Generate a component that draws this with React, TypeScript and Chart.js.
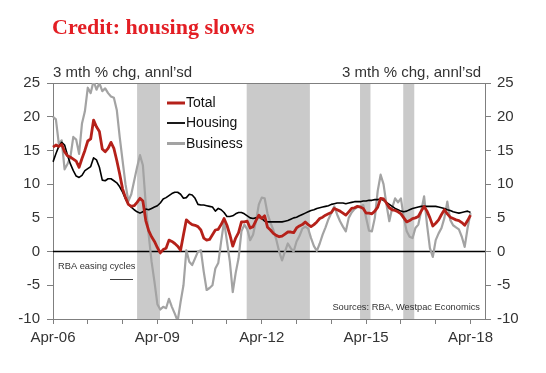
import React, { useEffect, useRef } from "react";
import { Chart, registerables } from "chart.js";

Chart.register(...registerables);

// ---- Data ----
const MONTH_NAMES = ["Jan", "Feb", "Mar", "Apr", "May", "Jun", "Jul", "Aug", "Sep", "Oct", "Nov", "Dec"];
// categories: Apr-06 .. Sep-18 (month labels)
const categories: string[] = [];
for (let i = 0; i < 150; i++) {
  const mi = (3 + i) % 12;
  const yr = 6 + Math.floor((3 + i) / 12);
  categories.push(MONTH_NAMES[mi] + "-" + String(yr).padStart(2, "0"));
}

const xTickLabels = ["Apr-06", "Apr-09", "Apr-12", "Apr-15", "Apr-18"];
const yTicks = [-10, -5, 0, 5, 10, 15, 20, 25];

const total = [
  15.5, 15.8, 15.6, 15.9, 14.8, 14.2, 14.0, 13.7, 13.4, 12.5,
  13.8, 15.0, 16.4, 16.7, 19.5, 18.5, 17.8, 15.2, 14.8, 15.3,
  16.2, 15.3, 13.5, 11.5, 9.3, 8.0, 7.0, 6.7, 6.8, 7.3,
  7.9, 7.5, 4.6, 3.1, 2.2, 1.5, 0.6, -0.2, 0.3, 0.5,
  1.7, 1.5, 1.2, 0.8, 0.2, 2.5, 4.7, 4.3, 4.0, 3.9,
  3.7, 3.2, 2.0, 1.7, 1.8, 2.5, 3.2, 3.3, 4.0, 4.9,
  3.9, 2.5, 0.8, 2.0, 2.8, 4.4, 4.4, 4.5, 3.5, 3.7,
  4.6, 5.4, 4.9, 5.3, 3.6, 3.2, 2.7, 2.4, 2.2, 2.3,
  2.6, 2.9, 2.9, 2.8, 3.5, 3.8, 4.0, 4.4, 4.0, 3.7,
  4.0, 4.4, 4.9, 5.1, 5.4, 5.6, 5.8, 6.4, 6.2, 6.0,
  5.7, 5.4, 5.9, 6.4, 6.5, 6.7, 6.6, 6.4, 5.7, 5.7,
  5.6, 6.0, 6.6, 7.9, 7.8, 7.2, 6.5, 6.2, 6.1, 5.9,
  5.6, 5.0, 4.4, 4.6, 4.9, 5.0, 5.2, 6.0, 6.7, 6.0,
  5.0, 3.8, 4.2, 4.7, 5.5, 6.2, 5.6, 5.1, 4.9, 4.7,
  4.6, 4.3, 3.9, 4.6, 5.4,
];

const housing = [
  13.3, 14.5, 15.6, 16.2, 15.8, 14.3, 13.0, 12.0, 11.2, 11.0,
  11.3, 12.0, 12.3, 12.6, 13.9, 13.6, 12.5, 10.6, 10.5, 10.8,
  10.8, 10.5, 10.2, 9.6, 8.8, 7.8, 7.0, 6.6, 6.2, 5.9,
  5.7, 5.9, 6.3, 6.2, 6.4, 6.6, 6.8, 7.2, 7.8, 8.0,
  8.3, 8.6, 8.8, 8.8, 8.5, 7.9, 8.0, 8.5, 8.4, 7.9,
  7.0, 6.9, 6.9, 6.8, 6.7, 6.6, 6.0, 6.4, 6.2, 5.8,
  5.2, 5.2, 5.3, 5.6, 5.8, 5.8, 5.6, 5.3, 5.0, 4.9,
  5.0, 5.1, 4.9, 4.5, 4.4, 4.4, 4.4, 4.4, 4.4, 4.4,
  4.5, 4.6, 4.8, 5.0, 5.1, 5.3, 5.5, 5.7, 5.9, 6.1,
  6.2, 6.4, 6.5, 6.6, 6.7, 6.8, 7.0, 7.1, 7.2, 7.2,
  7.2, 7.1, 7.2, 7.3, 7.4, 7.4, 7.4, 7.5, 7.5, 7.6,
  7.6, 7.7, 7.7, 7.8, 7.6, 7.3, 7.0, 6.7, 6.4, 6.2,
  6.0, 5.9, 6.0, 6.2, 6.4, 6.5, 6.6, 6.7, 6.7, 6.7,
  6.7, 6.7, 6.7, 6.6, 6.5, 6.4, 6.2, 6.1, 5.9, 5.8,
  5.7, 5.8, 5.9, 6.0, 5.8,
];

const business = [
  20.0, 19.6, 16.0, 16.5, 12.2, 13.0, 14.0, 17.0, 16.6, 14.5,
  19.0, 20.8, 24.3, 23.5, 25.3, 24.0, 25.0, 23.8, 24.2, 23.5,
  23.0, 22.8, 21.0, 17.0, 13.5, 10.0, 7.5, 8.5, 10.5, 12.5,
  14.3, 12.8, 7.0, 2.5, -1.5, -4.5, -7.8, -8.6, -8.2, -8.4,
  -7.0, -8.2, -9.2, -10.3, -7.5, -5.0, 0.2, -1.5, -2.0, -1.0,
  0.0, 0.2, -3.0, -5.7, -5.4, -5.0, -2.5, -1.7, 1.5, 4.5,
  1.5, -1.5, -6.0, -3.2, -1.0, 3.0, 4.0, 3.3, 1.7, 2.5,
  4.5, 7.0, 8.0, 7.9, 5.6, 4.3, 3.2, 1.8, 0.0, -1.3,
  0.0, 1.2, 0.5, 0.0, 1.5, 2.3, 3.4, 3.7, 3.4, 2.0,
  0.8, 0.1, 1.2, 2.5, 3.6, 4.8, 5.7, 6.7, 5.5, 4.5,
  3.7, 3.0, 5.0, 5.8, 6.3, 6.6, 6.7, 6.9, 5.0, 3.1,
  3.0, 5.0, 9.0, 11.4, 10.0, 7.0, 4.5, 6.5, 7.9, 7.3,
  7.9, 5.0, 3.0, 2.2, 2.0, 3.5, 4.0, 6.0, 8.2, 4.0,
  0.5, -0.8, 1.7, 2.7, 3.5, 5.0, 7.4, 4.7, 3.9, 3.6,
  3.3, 2.2, 0.7, 3.5, 5.7,
];

// RBA easing cycles (in month-index units on the category axis)
const easingStart = [29, 66.8, 105.9, 120.8];
const easingEnd = [36.9, 88.6, 109.5, 124.6];

const seriesNames = ["Total", "Housing", "Business"];
const seriesColors = ["#B5211A", "#000000", "#A3A3A3"];
const seriesWidths = [2.8, 1.6, 2.2];

const TITLE = "Credit: housing slows";
const UNIT = "3 mth % chg, annl\u2019sd";
const EASING_LABEL = "RBA easing cycles";
const SOURCES = "Sources: RBA, Westpac Economics";

const SANS = "'Liberation Sans', Arial, sans-serif";
const TEXT = "#333333";
const AXIS = "#7f7f7f";

const overlayPlugin = {
  id: "overlay",
  beforeDatasetsDraw(chart: any) {
    const { ctx, chartArea: a, scales } = chart;
    const x = scales.x;
    const y = scales.y;
    ctx.save();
    ctx.fillStyle = "#CACACA";
    easingStart.forEach((s, i) => {
      const x0 = x.getPixelForValue(s);
      const x1 = x.getPixelForValue(easingEnd[i]);
      ctx.fillRect(x0, a.top, x1 - x0, a.bottom - a.top);
    });
    const y0 = y.getPixelForValue(0);
    ctx.strokeStyle = "#000";
    ctx.lineWidth = 1.5;
    ctx.beginPath();
    ctx.moveTo(a.left, y0);
    ctx.lineTo(a.right, y0);
    ctx.stroke();
    ctx.strokeStyle = AXIS;
    ctx.lineWidth = 1;
    ctx.beginPath();
    ctx.moveTo(a.left, a.top + 0.5);
    ctx.lineTo(a.right, a.top + 0.5);
    ctx.stroke();
    ctx.restore();
  },
  afterDraw(chart: any) {
    const { ctx, chartArea: a } = chart;
    ctx.save();
    // title
    ctx.fillStyle = "#E31E24";
    ctx.font = "bold 22px 'Liberation Serif', 'Times New Roman', serif";
    ctx.textAlign = "left";
    ctx.textBaseline = "alphabetic";
    ctx.fillText(TITLE, 52, 34);
    // unit labels
    ctx.fillStyle = TEXT;
    ctx.font = "15px " + SANS;
    ctx.textAlign = "left";
    ctx.fillText(UNIT, a.left, 77);
    ctx.textAlign = "right";
    ctx.fillText(UNIT, a.right - 4, 77);
    // legend
    const ly = [103, 123, 143.5];
    ctx.font = "14px " + SANS;
    ctx.textAlign = "left";
    ctx.textBaseline = "middle";
    seriesNames.forEach((n, i) => {
      ctx.strokeStyle = seriesColors[i];
      ctx.lineWidth = i === 1 ? 1.8 : 3;
      ctx.beginPath();
      ctx.moveTo(167, ly[i]);
      ctx.lineTo(185, ly[i]);
      ctx.stroke();
      ctx.fillStyle = "#111";
      ctx.fillText(n, 186, ly[i] + 0.5);
    });
    // RBA easing label
    ctx.fillStyle = TEXT;
    ctx.font = "9.3px " + SANS;
    ctx.textAlign = "left";
    ctx.fillText(EASING_LABEL, 58, 266);
    ctx.strokeStyle = "#404040";
    ctx.lineWidth = 1;
    ctx.beginPath();
    ctx.moveTo(110, 279.5);
    ctx.lineTo(133, 279.5);
    ctx.stroke();
    // sources
    ctx.textAlign = "right";
    ctx.fillText(SOURCES, a.right - 5, 307);
    ctx.restore();
  },
};

export default function App() {
  const ref = useRef<HTMLCanvasElement | null>(null);

  useEffect(() => {
    if (!ref.current) return;
    const yAxisCommon = {
      type: "linear" as const,
      min: -10,
      max: 25,
      afterBuildTicks: (s: any) => {
        s.ticks = yTicks.map((v) => ({ value: v }));
      },
      grid: {
        drawOnChartArea: false,
        drawTicks: true,
        tickLength: 6,
        tickColor: AXIS,
        color: AXIS,
      },
      border: { display: true, color: AXIS, width: 1 },
      ticks: {
        font: { size: 15, family: SANS },
        color: TEXT,
        padding: 7,
      },
    };
    const chart = new Chart(ref.current, {
      type: "line",
      data: {
        labels: categories,
        datasets: seriesNames.map((n, i) => ({
          label: n,
          data: [total, housing, business][i],
          borderColor: seriesColors[i],
          backgroundColor: seriesColors[i],
          borderWidth: seriesWidths[i],
          pointRadius: 0,
          tension: 0,
          borderJoinStyle: "round" as const,
          yAxisID: "y",
        })),
      },
      options: {
        animation: false,
        responsive: false,
        events: [],
        layout: { padding: { top: 83, left: 0, right: 0, bottom: 0 } },
        plugins: {
          legend: { display: false },
          tooltip: { enabled: false },
          title: { display: false },
        },
        scales: {
          x: {
            type: "category",
            offset: false,
            afterBuildTicks: (s: any) => {
              s.ticks = categories
                .map((c, i) => ({ c, i }))
                .filter((o) => o.c.startsWith("Apr"))
                .map((o) => ({ value: o.i }));
            },
            afterFit: (s: any) => {
              s.height = 54;
            },
            grid: {
              drawOnChartArea: false,
              drawTicks: true,
              tickLength: 5,
              tickColor: AXIS,
              color: AXIS,
              offset: false,
            },
            border: { display: true, color: AXIS, width: 1 },
            ticks: {
              autoSkip: false,
              maxRotation: 0,
              minRotation: 0,
              padding: 5,
              font: { size: 15, family: SANS },
              color: TEXT,
              callback: (v: any) => {
                const l = categories[v as number];
                return xTickLabels.includes(l) ? l : "";
              },
            },
          },
          y: {
            ...yAxisCommon,
            position: "left",
            afterFit: (s: any) => {
              s.width = 53;
            },
          },
          y2: {
            ...yAxisCommon,
            position: "right",
            ticks: { ...yAxisCommon.ticks, padding: 6 },
            afterFit: (s: any) => {
              s.width = 61;
            },
          },
        },
      },
      plugins: [overlayPlugin],
    } as any);
    return () => chart.destroy();
  }, []);

  return (
    <div style={{ position: "absolute", left: 0, top: 0, width: 546, height: 373, background: "#fff" }}>
      <canvas ref={ref} width={546} height={373} style={{ width: 546, height: 373, display: "block" }} />
    </div>
  );
}
